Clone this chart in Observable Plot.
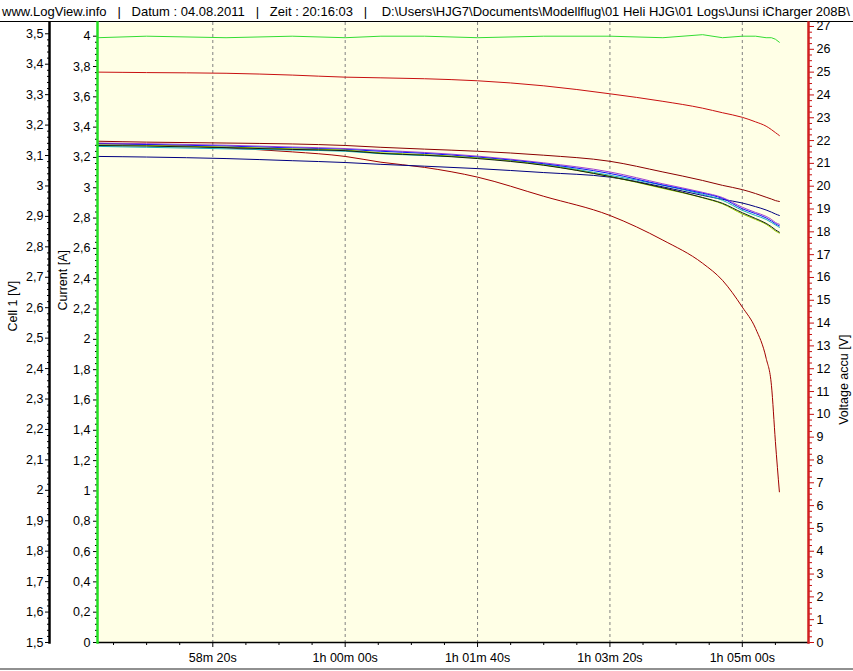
<!DOCTYPE html>
<html><head><meta charset="utf-8">
<script src="https://cdn.jsdelivr.net/npm/d3@7"></script>
<script src="https://cdn.jsdelivr.net/npm/@observablehq/plot@0.6"></script>
<style>
html,body{margin:0;padding:0;background:#fff;}
#wrap{width:853px;height:671px;position:relative;overflow:hidden;font-family:"Liberation Sans",Arial,sans-serif;}
#hdr{height:19px;padding-top:2px;line-height:19px;border-bottom:1px solid #000;font-size:13px;white-space:pre;overflow:hidden;padding-left:2px;color:#000;}
#chart svg{display:block}
#bline{position:absolute;left:0;top:668px;width:853px;height:2px;background:#909090;}
</style></head>
<body>
<div id="wrap">
  <div id="hdr"></div>
  <div id="chart"></div>
  <div id="bline"></div>
</div>
<script>
// ---- data ----
const headerText = "www.LogView.info   |   Datum : 04.08.2011   |   Zeit : 20:16:03   |    D:\\Users\\HJG7\\Documents\\Modellflug\\01 Heli HJG\\01 Logs\\Junsi iCharger 208B\\";
const times = [3413, 3450, 3510, 3560, 3600, 3627, 3660, 3700, 3750, 3800, 3840, 3870, 3885, 3900, 3910, 3918, 3922, 3925, 3928];
const cell1 = [3.140, 3.136, 3.125, 3.112, 3.097, 3.078, 3.061, 3.029, 2.966, 2.903, 2.822, 2.746, 2.690, 2.602, 2.532, 2.434, 2.345, 2.160, 1.995];
const cell2 = [3.147, 3.144, 3.141, 3.138, 3.133, 3.127, 3.121, 3.114, 3.101, 3.081, 3.046, 3.018, 3.002, 2.988, 2.975, 2.963, 2.957, 2.952, 2.949];
const cell3 = [3.097, 3.095, 3.090, 3.083, 3.077, 3.071, 3.065, 3.057, 3.044, 3.029, 2.997, 2.969, 2.956, 2.944, 2.932, 2.921, 2.914, 2.908, 2.903];
const cell4 = [3.130, 3.127, 3.122, 3.118, 3.114, 3.106, 3.100, 3.093, 3.071, 3.035, 3.002, 2.972, 2.953, 2.920, 2.903, 2.890, 2.880, 2.872, 2.864];
const cell5 = [3.141, 3.139, 3.134, 3.128, 3.123, 3.117, 3.110, 3.098, 3.076, 3.046, 3.007, 2.979, 2.962, 2.930, 2.913, 2.900, 2.890, 2.880, 2.874];
const cell6 = [3.138, 3.136, 3.131, 3.125, 3.120, 3.114, 3.107, 3.095, 3.073, 3.041, 3.003, 2.976, 2.959, 2.925, 2.909, 2.895, 2.885, 2.876, 2.869];
const cell7 = [3.135, 3.133, 3.128, 3.122, 3.118, 3.109, 3.103, 3.092, 3.069, 3.031, 2.992, 2.961, 2.941, 2.908, 2.890, 2.874, 2.862, 2.852, 2.845];
const cell8 = [3.133, 3.131, 3.126, 3.120, 3.116, 3.107, 3.101, 3.090, 3.068, 3.031, 2.994, 2.962, 2.943, 2.912, 2.893, 2.877, 2.866, 2.856, 2.848];
const voltage = [25.00, 24.98, 24.95, 24.87, 24.78, 24.75, 24.71, 24.62, 24.40, 24.05, 23.72, 23.42, 23.22, 23.02, 22.82, 22.63, 22.48, 22.35, 22.22];
const current = [3.99, 4.00, 3.99, 4.00, 3.99, 4.00, 4.00, 3.99, 4.00, 4.00, 3.99, 4.01, 3.99, 4.00, 4.00, 3.99, 3.99, 3.98, 3.96];

const cellNames = ["Cell 1", "Cell 2", "Cell 3", "Cell 4", "Cell 5", "Cell 6", "Cell 7", "Cell 8"];
const cellColors = ["#a00000", "#8b0000", "#000080", "#10b0c0", "#a040d0", "#1010ff", "#99cc00", "#102010"];
const xMajorTicks = [3500, 3600, 3700, 3800, 3900];
const cellTickValues = d3.range(15, 36).map(d => d / 10);
const currentTickValues = d3.range(0, 21).map(d => d / 5);
const voltTickValues = d3.range(0, 28);

// ---- axis mapping (everything drawn on the Current [A] scale) ----
const cellK = 2.008, cellBase = 1.5, voltK = 0.15052;
const cellToY = v => (v - cellBase) * cellK;
const voltToY = v => v * voltK;

const cellSeries = [cell1, cell2, cell3, cell4, cell5, cell6, cell7, cell8];
const rows = [];
cellSeries.forEach((vals, k) => vals.forEach((v, i) => rows.push({t: times[i], y: cellToY(v), s: cellNames[k], c: cellColors[k]})));
voltage.forEach((v, i) => rows.push({t: times[i], y: voltToY(v), s: "Voltage accu", c: "#c81010"}));
const currentRows = current.map((v, i) => ({t: times[i], y: v}));

const comma = (x) => String(+(+x).toFixed(2)).replace(".", ",");
const pad = n => String(n).padStart(2, "0");
const fmtTime = t => {
  const h = Math.floor(t / 3600), m = Math.floor((t % 3600) / 60), s = Math.round(t % 60);
  return h > 0 ? `${h}h ${pad(m)}m ${pad(s)}s` : `${m}m ${pad(s)}s`;
};
const noLabel = () => "";

const xMinor = d3.range(3425, 3950, 25).filter(t => !xMajorTicks.includes(t));
const cellMinor = d3.range(150, 351, 2).filter(d => d % 10 !== 0).map(d => cellToY(d / 100));
const curMinor = d3.range(0, 101).filter(d => d % 5 !== 0).map(d => d * 0.04);
const voltMinor = d3.range(0, 109).filter(d => d % 4 !== 0).map(d => voltToY(d / 4));

document.getElementById("hdr").textContent = headerText;

const chart = Plot.plot({
  width: 853, height: 649,
  marginLeft: 97, marginRight: 45, marginTop: 0, marginBottom: 29,
  x: {domain: [3412.9, 3950], label: null},
  y: {domain: [0, 4.0904], label: null},
  color: {type: "identity"},
  style: {fontFamily: "'Liberation Sans', Arial, sans-serif", fontSize: "12.5px", background: "transparent", color: "#000", overflow: "visible"},
  marks: [
    Plot.frame({fill: "#ffffe6", stroke: null}),
    Plot.gridX(xMajorTicks, {stroke: "#808080", strokeOpacity: 1, strokeDasharray: "3,3"}),
    Plot.line(rows, {x: "t", y: "y", z: "s", stroke: "c", strokeWidth: 1, curve: "monotone-x"}),
    Plot.line(currentRows, {x: "t", y: "y", stroke: "#33dd33", strokeWidth: 1}),
    // x axis
    Plot.frame({anchor: "bottom", stroke: "#000", strokeWidth: 1.5}),
    Plot.axisX(xMajorTicks, {anchor: "bottom", tickSize: 5, tickPadding: 6, tickFormat: fmtTime, fill: "#000", stroke: "#000"}),
    Plot.axisX(xMinor, {anchor: "bottom", tickSize: 3, tickFormat: noLabel, stroke: "#000"}),
    // current axis (green)
    Plot.axisY(currentTickValues, {anchor: "left", tickSize: 4, tickPadding: 3, tickFormat: comma, fill: "#000", stroke: "#000"}),
    Plot.axisY(curMinor, {anchor: "left", tickSize: 2, tickFormat: noLabel, stroke: "#000"}),
    Plot.frame({anchor: "left", stroke: "#22e022", strokeWidth: 2.5}),
    // cell axis (black)
    Plot.axisY(cellTickValues.map(cellToY), {anchor: "left", dx: -48, tickSize: 4, tickPadding: 2, tickFormat: d => comma(d / cellK + cellBase), fill: "#000", stroke: "#000"}),
    Plot.axisY(cellMinor, {anchor: "left", dx: -48, tickSize: 2, tickFormat: noLabel, stroke: "#000"}),
    Plot.frame({anchor: "left", dx: -48, stroke: "#000", strokeWidth: 2.5}),
    // voltage axis (red)
    Plot.axisY(voltTickValues.map(voltToY), {anchor: "right", tickSize: 5, tickPadding: 3, tickFormat: d => String(Math.round(d / voltK)), fill: "#000", stroke: "#c81010"}),
    Plot.axisY(voltMinor, {anchor: "right", tickSize: 3, tickFormat: noLabel, stroke: "#c81010"}),
    Plot.frame({anchor: "right", stroke: "#d02020", strokeWidth: 2.5}),
    // axis titles
    Plot.text(["Cell 1 [V]"], {frameAnchor: "left", dx: -85, dy: -1, rotate: -90, fill: "#000", fontSize: 12.5}),
    Plot.text(["Current [A]"], {frameAnchor: "left", dx: -35, dy: -22, rotate: -90, fill: "#000", fontSize: 12.5}),
    Plot.text(["Voltage accu [V]"], {frameAnchor: "right", dx: 35, dy: 2, rotate: -90, fill: "#000", fontSize: 12.5})
  ]
});
document.getElementById("chart").appendChild(chart);
</script>
</body></html>
